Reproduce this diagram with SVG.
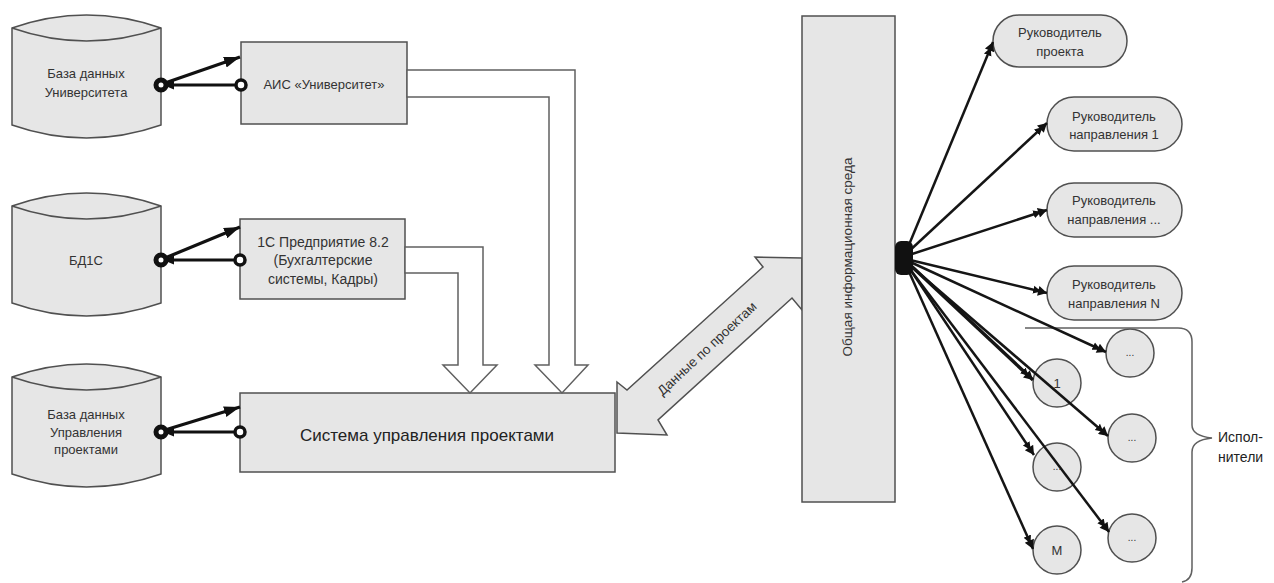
<svg xmlns="http://www.w3.org/2000/svg" width="1274" height="583" viewBox="0 0 1274 583">
<style>
  .shape { fill: #e6e6e6; stroke: #505050; stroke-width: 1.5; }
  .lens { fill: none; stroke: #505050; stroke-width: 1.5; }
  .t { font-family: "Liberation Sans", Arial, sans-serif; font-size: 13px; fill: #333; text-anchor: middle; }
  .big { font-size: 17px; fill: #222; }
  .blk { fill: #fff; stroke: #606060; stroke-width: 1.5; stroke-linejoin: miter; }
  .bold { fill: none; stroke: #111; stroke-width: 3.2; }
  .ringb { fill: #fff; stroke: #111; stroke-width: 5; }
  .ring { fill: #fff; stroke: #111; stroke-width: 3.5; }
  .fan { fill: none; stroke: #151515; stroke-width: 2.5; marker-end: url(#dah); }
</style>
<defs>
  <marker id="ah" viewBox="0 0 16 11" refX="16" refY="5.5" markerWidth="16" markerHeight="11" markerUnits="userSpaceOnUse" orient="auto">
    <path d="M0,0 L16,5.5 L0,11 Z" fill="#111"/>
  </marker>
  <marker id="ahs" viewBox="0 0 11 9" refX="11" refY="4.5" markerWidth="11" markerHeight="9" markerUnits="userSpaceOnUse" orient="auto">
    <path d="M0,0 L11,4.5 L0,9 Z" fill="#111"/>
  </marker>
  <marker id="dah" viewBox="0 0 14 10" refX="14" refY="5" markerWidth="14" markerHeight="10" markerUnits="userSpaceOnUse" orient="auto">
    <path d="M0,1 L8,5 L0,9 Z M5,0 L14,5 L5,10 Z" fill="#111"/>
  </marker>
</defs>

<g id="db-univ">
  <path class="shape" d="M12,28 Q86.5,2 161,28 L161,125 Q86.5,151 12,125 Z"/>
  <path class="lens" d="M12,28 Q86.5,54 161,28"/>
  <text class="t" x="86" y="78">База данных</text>
  <text class="t" x="86" y="97">Университета</text>
</g>
<g id="db-1c">
  <path class="shape" d="M12,206 Q86.5,180 161,206 L161,303 Q86.5,329 12,303 Z"/>
  <path class="lens" d="M12,206 Q86.5,232 161,206"/>
  <text class="t" x="86" y="265">БД1С</text>
</g>
<g id="db-pm">
  <path class="shape" d="M12,377 Q86.5,351 161,377 L161,474 Q86.5,500 12,474 Z"/>
  <path class="lens" d="M12,377 Q86.5,403 161,377"/>
  <text class="t" x="86" y="419">База данных</text>
  <text class="t" x="86" y="437">Управления</text>
  <text class="t" x="86" y="454">проектами</text>
</g>

<g id="ais">
  <rect class="shape" x="241" y="42" width="166" height="82"/>
  <text class="t" x="324" y="89">АИС «Университет»</text>
</g>
<g id="onec">
  <rect class="shape" x="240" y="219" width="165" height="80"/>
  <text class="t" x="323" y="247" style="font-size:14px">1С Предприятие 8.2</text>
  <text class="t" x="323" y="265" style="font-size:14px">(Бухгалтерские</text>
  <text class="t" x="323" y="284" style="font-size:14px">системы, Кадры)</text>
</g>
<g id="spm">
  <rect class="shape" x="240" y="393" width="375" height="79"/>
  <text class="t big" x="427" y="441">Система управления проектами</text>
</g>

<g id="data-arrow">
  <polygon class="shape" points="617,382 627,390 763,267 755,257 802,258 802,310 792,298 658,420 667,435 617,433"/>
  <text class="t" transform="translate(710,352) rotate(-43)" x="0" y="0" style="font-size:13.5px">Данные по проектам</text>
</g>

<g id="env">
  <rect class="shape" x="802" y="16" width="93" height="486"/>
  <text class="t" transform="translate(852,257) rotate(-90)" x="0" y="0" style="font-size:13.5px">Общая информационная среда</text>
</g>

<g id="lead-project">
  <rect class="shape" x="993" y="15" width="134" height="52" rx="26" ry="26"/>
  <text class="t" x="1060" y="37">Руководитель</text>
  <text class="t" x="1060" y="56">проекта</text>
</g>
<g id="lead-dir1">
  <rect class="shape" x="1047" y="97" width="135" height="54" rx="27" ry="27"/>
  <text class="t" x="1114" y="121">Руководитель</text>
  <text class="t" x="1114" y="139">направления 1</text>
</g>
<g id="lead-dirx">
  <rect class="shape" x="1047" y="183" width="135" height="54" rx="27" ry="27"/>
  <text class="t" x="1114" y="205">Руководитель</text>
  <text class="t" x="1114" y="224">направления ...</text>
</g>
<g id="lead-dirn">
  <rect class="shape" x="1047" y="266" width="135" height="54" rx="27" ry="27"/>
  <text class="t" x="1114" y="289">Руководитель</text>
  <text class="t" x="1114" y="308">направления N</text>
</g>

<g id="exec-a">
  <circle class="shape" cx="1130" cy="353" r="24"/>
  <text class="t" x="1130" y="356" style="font-size:10px">...</text>
</g>
<g id="exec-1">
  <circle class="shape" cx="1057" cy="383" r="24"/>
  <text class="t" x="1057" y="388">1</text>
</g>
<g id="exec-b">
  <circle class="shape" cx="1132" cy="438" r="24"/>
  <text class="t" x="1132" y="441" style="font-size:10px">...</text>
</g>
<g id="exec-c">
  <circle class="shape" cx="1057" cy="467" r="24"/>
  <text class="t" x="1057" y="470" style="font-size:10px">...</text>
</g>
<g id="exec-d">
  <circle class="shape" cx="1132" cy="538" r="24"/>
  <text class="t" x="1132" y="541" style="font-size:10px">...</text>
</g>
<g id="exec-m">
  <circle class="shape" cx="1057" cy="550" r="24"/>
  <text class="t" x="1057" y="555">M</text>
</g>

<g id="executors">
  <path d="M1025,328 L1178,328 Q1192,328 1192,342 L1192,425 Q1192,436 1212,438 Q1192,440 1192,452 L1192,568 Q1192,580 1182,582" fill="none" stroke="#606060" stroke-width="1.5"/>
  <text x="1218" y="442" style="font-family:'Liberation Sans',Arial,sans-serif;font-size:14px;fill:#222">Испол-</text>
  <text x="1218" y="462" style="font-family:'Liberation Sans',Arial,sans-serif;font-size:14px;fill:#222">нители</text>
</g>

<g id="connectors">
  <line class="bold" x1="165" y1="83" x2="240" y2="57" marker-end="url(#ah)"/>
  <line class="bold" x1="236" y1="85" x2="163" y2="85" marker-end="url(#ahs)"/>
  <circle class="ringb" cx="161" cy="85" r="5"/>
  <circle class="ring" cx="241" cy="85" r="5"/>

  <line class="bold" x1="165" y1="258" x2="240" y2="227" marker-end="url(#ah)"/>
  <line class="bold" x1="235" y1="260" x2="163" y2="260" marker-end="url(#ahs)"/>
  <circle class="ringb" cx="161" cy="260" r="5"/>
  <circle class="ring" cx="240" cy="260" r="5"/>

  <line class="bold" x1="165" y1="430" x2="240" y2="407" marker-end="url(#ah)"/>
  <line class="bold" x1="235" y1="432" x2="163" y2="432" marker-end="url(#ahs)"/>
  <circle class="ringb" cx="161" cy="432" r="5"/>
  <circle class="ring" cx="240" cy="432" r="5"/>

  <polygon class="blk" points="407,70 575,70 575,365 588,365 562,393 535,365 549,365 549,97 407,97"/>
  <polygon class="blk" points="405,247 483,247 483,365 497,365 470,393 443,365 458,365 458,273 405,273"/>

  <line class="fan" x1="906" y1="252" x2="993" y2="42"/>
  <line class="fan" x1="906" y1="254" x2="1047" y2="123"/>
  <line class="fan" x1="906" y1="256" x2="1047" y2="210"/>
  <line class="fan" x1="906" y1="259" x2="1047" y2="293"/>
  <line class="fan" x1="906" y1="260" x2="1106" y2="352"/>
  <line class="fan" x1="906" y1="261" x2="1033" y2="380" style="stroke-width:3.4"/>
  <line class="fan" x1="906" y1="262" x2="1108" y2="436"/>
  <line class="fan" x1="906" y1="263" x2="1034" y2="455"/>
  <line class="fan" x1="906" y1="264" x2="1109" y2="532"/>
  <line class="fan" x1="906" y1="265" x2="1033" y2="549"/>
  <rect x="895" y="241" width="18" height="34" rx="6" ry="6" fill="#111"/>
</g>
</svg>
